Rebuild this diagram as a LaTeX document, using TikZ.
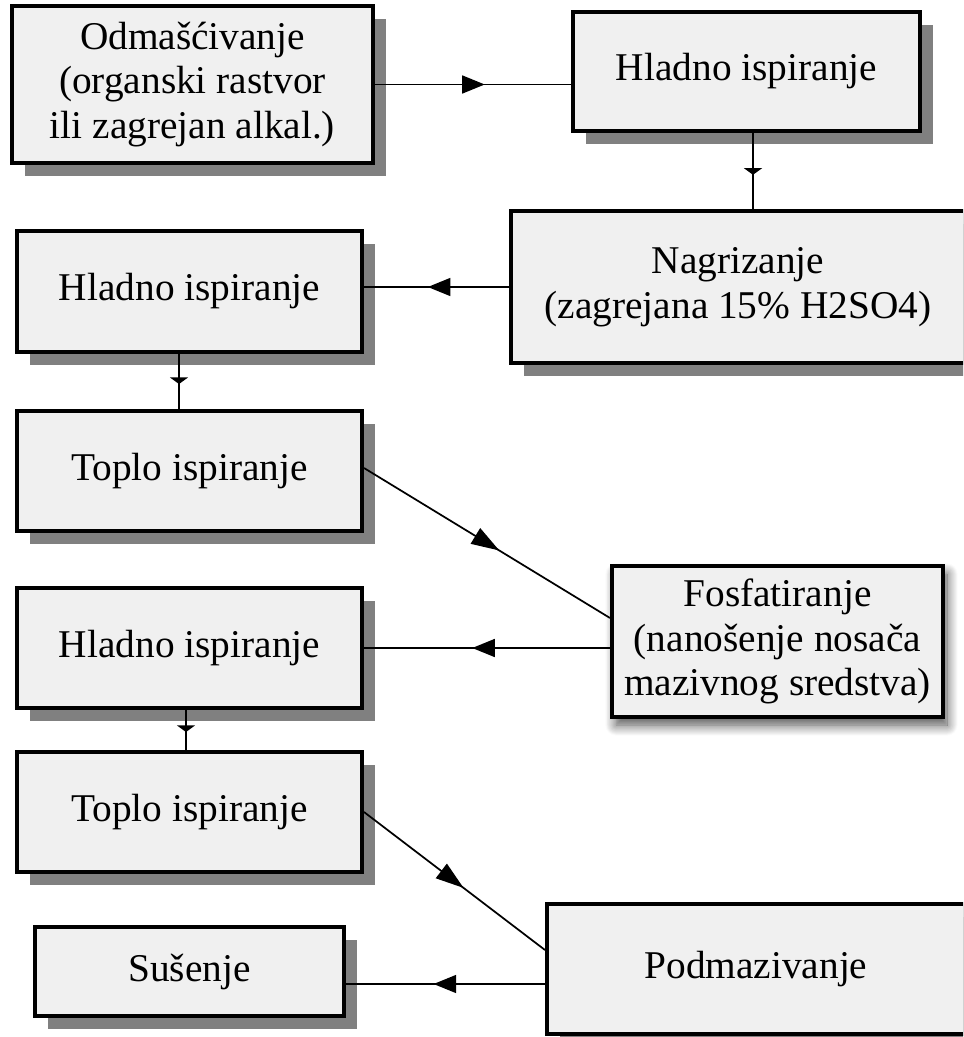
\documentclass[tikz,border=0pt]{standalone}
\usepackage{fontspec}
\setmainfont{Liberation Serif}
\usetikzlibrary{shadows,shadows.blur,arrows.meta,decorations.markings,calc}
\definecolor{boxfill}{HTML}{F0F0F0}
\definecolor{shade}{HTML}{808080}
\tikzset{
  box/.style={draw=black, line width=3pt, fill=boxfill, rectangle, inner sep=0pt,
    align=center, font=\fontsize{29.5}{33.5}\selectfont},
  hardshadow/.style={drop shadow={shadow xshift=9.75pt, shadow yshift=-9.75pt, fill=shade, opacity=1, draw=none}},
  softshadow/.style={blur shadow={shadow xshift=3pt, shadow yshift=-6pt, shadow blur radius=8pt, shadow blur steps=12, shadow opacity=70}},
  harrow/.style={line width=1.3pt, decoration={markings, mark=at position 0.56 with {\arrow{Triangle[length=17pt,width=13.5pt]}}}, postaction=decorate},
  varrow/.style={line width=1.3pt, decoration={markings, mark=at position 0.55 with {\arrow{Triangle[length=5pt,width=13.5pt]}}}, postaction=decorate},
  darrow/.style={line width=1.3pt, decoration={markings, mark=at position 0.55 with {\arrow{Triangle[length=21pt,width=13.5pt]}}}, postaction=decorate},
}
\begin{document}
\begin{tikzpicture}[x=0.75pt, y=-0.75pt]
\useasboundingbox (0,0) rectangle (963,1037);
\clip (0,0) rectangle (963,1037);

\node[box, hardshadow, minimum width=270.75pt, minimum height=117.75pt] (odm) at (192.5,84.5)
  {Odmaš\'civanje\\(organski rastvor\\ili zagrejan alkal.)};
\node[box, hardshadow, minimum width=260.25pt, minimum height=89.25pt] (hl1) at (746.5,71.5)
  {Hladno ispiranje};
\node[box, hardshadow, minimum width=340.5pt, minimum height=114pt] (nag) at (738,287)
  {Nagrizanje\\(zagrejana 15\% H2SO4)};
\node[box, hardshadow, minimum width=258.75pt, minimum height=90pt] (hl2) at (189.5,291.5)
  {Hladno ispiranje};
\node[box, hardshadow, minimum width=258.75pt, minimum height=90pt] (top1) at (189.5,471)
  {Toplo ispiranje};
\node[box, softshadow, minimum width=248.25pt, minimum height=113.25pt] (fos) at (777.5,641.5)
  {Fosfatiranje\\(nanošenje nosača\\mazivnog sredstva)};
\node[box, hardshadow, minimum width=258.75pt, minimum height=90pt] (hl3) at (189.5,648)
  {Hladno ispiranje};
\node[box, hardshadow, minimum width=258.75pt, minimum height=90pt] (top2) at (189.5,812)
  {Toplo ispiranje};
\node[box, hardshadow, minimum width=313.5pt, minimum height=97.5pt] (pod) at (756,969)
  {Podmazivanje};
\node[box, hardshadow, minimum width=231.75pt, minimum height=66.75pt] (sus) at (189.5,971.5)
  {Sušenje};

\draw[harrow] (odm.east) -- (odm.east -| hl1.west);
\coordinate (v1) at ($(hl1.south)+(6.5,0)$);
\draw[varrow] (v1) -- (v1 |- nag.north);
\draw[harrow] (nag.west) -- (nag.west -| hl2.east);
\coordinate (v2) at ($(hl2.south)+(-10.5,0)$);
\draw[varrow] (v2) -- (v2 |- top1.north);
\draw[darrow] ($(top1.east)+(0,-3)$) -- ($(fos.west)+(0,-23.5)$);
\draw[harrow] (fos.west |- hl3.east) -- (hl3.east);
\coordinate (v3) at ($(hl3.south)+(-3.5,0)$);
\draw[varrow] (v3) -- (v3 |- top2.north);
\draw[darrow] (top2.east) -- ($(pod.west)+(0,-19)$);
\coordinate (h5) at ($(pod.west)+(0,15)$);
\draw[harrow] (h5) -- (h5 -| sus.east);
\end{tikzpicture}
\end{document}
